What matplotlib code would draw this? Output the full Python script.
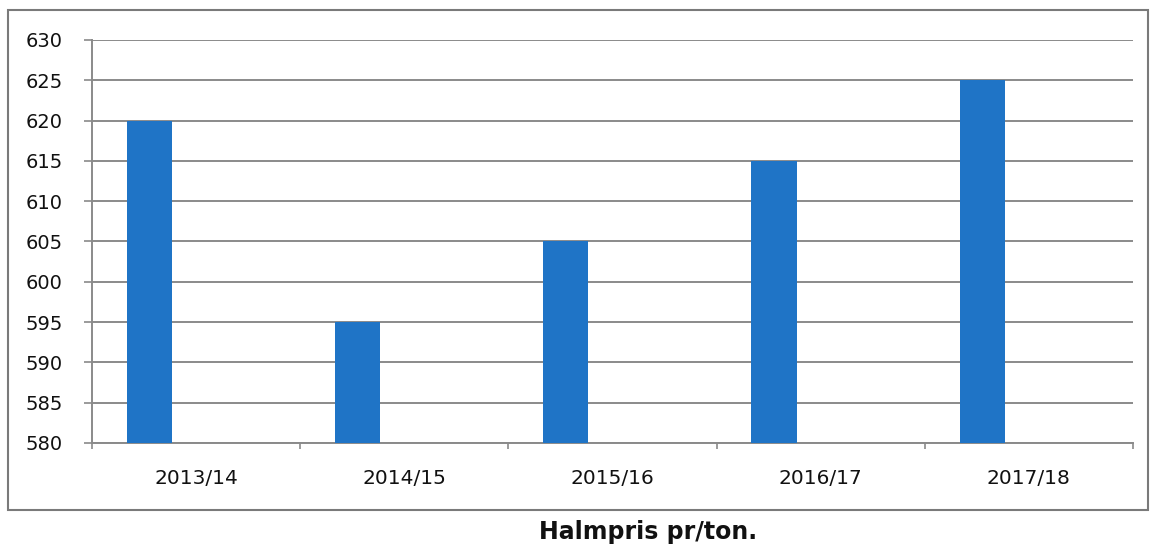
import numpy as np
import matplotlib.pyplot as plt
from matplotlib.patches import Rectangle

# Data
seasons = ['2013/14', '2014/15', '2015/16', '2016/17', '2017/18']
prices = [620, 595, 605, 615, 625]
y_ticks = list(range(580, 631, 5))

plt.rcParams['font.family'] = ['DejaVu Sans']

fig = plt.figure(figsize=(11.51, 5.44), dpi=100)
ax = fig.add_axes([0.0799, 0.1857, 0.9045, 0.7408])

x = np.arange(len(seasons))
ax.bar(x - 0.224, [p - 580 for p in prices], width=0.217, bottom=580,
       color='#1f74c6', zorder=3)

ax.set_xlim(-0.5, len(seasons) - 0.5)
ax.set_ylim(580, 630)
ax.set_yticks(y_ticks)
ax.set_yticklabels([str(v) for v in y_ticks], fontsize=14, color='#111111')
ax.grid(axis='y', color='#8a8a8a', linewidth=1.4, zorder=0)

ax.set_xticks(x)
ax.set_xticklabels(seasons, fontsize=14.5, color='#111111')
ax.set_xticks(np.arange(-0.5, len(seasons)), minor=True)
ax.tick_params(axis='x', which='major', length=0, pad=19)
ax.tick_params(axis='x', which='minor', length=4.5, color='#8a8a8a', width=1.2)
ax.tick_params(axis='y', length=6, color='#8a8a8a', width=1.2, pad=15)

for s in ['top', 'right']:
    ax.spines[s].set_visible(False)
for s in ['left', 'bottom']:
    ax.spines[s].set_color('#8a8a8a')
    ax.spines[s].set_linewidth(1.4)

# outer chart frame
fig.patches.append(Rectangle((8 / 1151, 1 - 510 / 544), 1140 / 1151, 500 / 544,
                             transform=fig.transFigure, fill=False,
                             edgecolor='#7a7a7a', linewidth=1.5))

fig.text(648 / 1151, 1 - 532 / 544, 'Halmpris pr/ton.', ha='center', va='center',
         fontsize=17, fontweight='bold', color='#111111')

fig.savefig('out.png', dpi=100)
